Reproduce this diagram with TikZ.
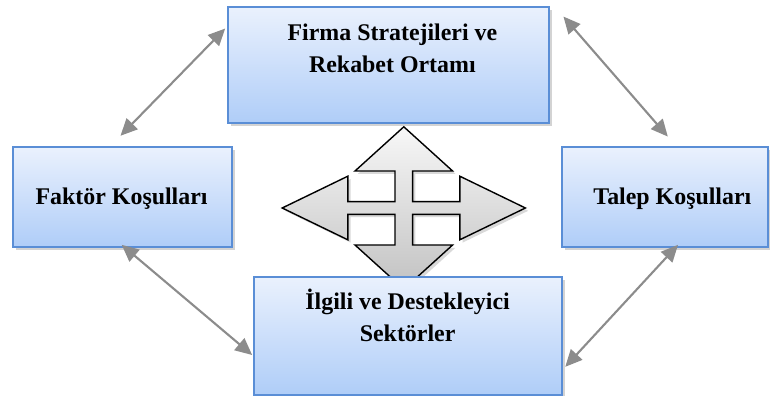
\documentclass[tikz,border=0pt]{standalone}
\usepackage{fontspec}
\setmainfont{Liberation Serif}
\usetikzlibrary{arrows.meta,shadows}
\definecolor{kutuUst}{HTML}{EAF1FD}
\definecolor{kutuAlt}{HTML}{AFCDF8}
\definecolor{kutuCizgi}{HTML}{5A8ED6}
\definecolor{okGri}{HTML}{8C8C8C}

\begin{document}
\begin{tikzpicture}[scale=1,
        kutu/.style={draw=kutuCizgi, line width=1.2pt, top color=kutuUst, bottom color=kutuAlt,
            drop shadow={opacity=0.35, shadow xshift=2pt, shadow yshift=-2pt}, inner sep=0pt},
        yazi/.style={align=center, font=\fontsize{17}{22.8}\selectfont\bfseries},
        okcift/.style={{Triangle[length=12pt,width=11pt]}-{Triangle[length=12pt,width=11pt]},
            draw=okGri, fill=okGri, line width=1.5pt}]
        \useasboundingbox (0, 0) rectangle (19.25, 9.9);

        % dort yonlu ok
        \begin{scope}[shift={(10.095, 4.7)}]
            \draw[line width=1pt, top color=black!3, bottom color=black!24,
                drop shadow={opacity=0.3, shadow xshift=2pt, shadow yshift=-2pt}]
                (0, 2.03) -- (1.22, 0.925) -- (0.22, 0.925) -- (0.22, 0.16) -- (1.4, 0.16)
                -- (1.4, 0.795) -- (3.04, 0) -- (1.4, -0.795) -- (1.4, -0.16) -- (0.22, -0.16)
                -- (0.22, -0.925) -- (1.22, -0.925) -- (0, -2.03) -- (-1.22, -0.925) -- (-0.22, -0.925)
                -- (-0.22, -0.16) -- (-1.4, -0.16) -- (-1.4, -0.795) -- (-3.04, 0) -- (-1.4, 0.795)
                -- (-1.4, 0.16) -- (-0.22, 0.16) -- (-0.22, 0.925) -- (-1.22, 0.925) -- cycle;
        \end{scope}

        \node[kutu, minimum width=8.025cm, minimum height=2.9cm] (firma) at (9.7125, 8.275) {};
        \node[yazi] (firmaYazi) at (9.81, 8.7) {Firma Stratejileri ve\\Rekabet Ortamı};

        \node[kutu, minimum width=5.475cm, minimum height=2.5cm] (faktor) at (3.0625, 4.975) {};
        \node[yazi] (faktorYazi) at (3.04, 4.94) {Faktör Koşulları};

        \node[kutu, minimum width=5.15cm, minimum height=2.5cm] (talep) at (16.625, 4.975) {};
        \node[yazi] (talepYazi) at (16.81, 4.94) {Talep Koşulları};

        \node[kutu, minimum width=7.7cm, minimum height=2.95cm] (ilgili) at (10.2, 1.5) {};
        \node[yazi] (ilgiliYazi) at (10.19, 2.01) {İlgili ve Destekleyici\\Sektörler};

        % cift yonlu oklar
        \draw[okcift] ([shift={(-0.05, 0.26)}]faktor.north) -- ([shift={(-0.05, -0.56)}]firma.north west);
        \draw[okcift] ([shift={(0.34, -0.26)}]firma.north east) -- ([shift={(0.07, 0.24)}]talep.north);
        \draw[okcift] ([shift={(-0.02, 0.075)}]faktor.south) -- ([shift={(-0.025, -0.475)}]ilgili.west);
        \draw[okcift] ([shift={(0.325, 0.075)}]talep.south) -- ([shift={(0.06, -0.77)}]ilgili.east);
    \end{tikzpicture}
\end{document}
